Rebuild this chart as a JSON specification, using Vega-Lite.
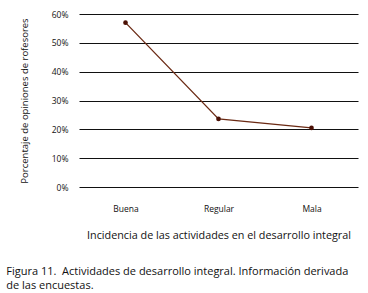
{
  "$schema": "https://vega.github.io/schema/vega-lite/v6.json",
  "autosize": "none",
  "width": 279,
  "height": 173,
  "padding": {"left": 79, "top": 14, "right": 10, "bottom": 106},
  "background": "white",
  "data": {"values": [
    {"categoria": "Buena", "porcentaje": 0.57},
    {"categoria": "Regular", "porcentaje": 0.236},
    {"categoria": "Mala", "porcentaje": 0.205}
  ]},
  "title": {
    "text": ["Figura 11.\u00a0\u00a0Actividades de desarrollo integral. Información derivada", "de las encuestas."],
    "orient": "bottom",
    "anchor": "start",
    "frame": "bounds",
    "offset": 26,
    "font": "Open Sans",
    "fontSize": 11,
    "fontWeight": "normal",
    "color": "#111",
    "lineHeight": 14,
    "dx": -13
  },
  "config": {
    "view": {"stroke": null},
    "font": "Open Sans"
  },
  "mark": {"type": "line", "color": "#6b2a14", "strokeWidth": 1.3, "point": {"filled": true, "color": "#4a1005", "size": 22}},
  "encoding": {
    "x": {
      "field": "categoria",
      "type": "nominal",
      "sort": ["Buena", "Regular", "Mala"],
      "scale": {"type": "point", "padding": 0.5},
      "axis": {
        "title": "Incidencia de las actividades en el desarrollo integral",
        "titleFont": "Open Sans",
        "titleFontSize": 10.8,
        "titleFontWeight": "normal",
        "titleColor": "#111",
        "titlePadding": 17,
        "labelAngle": 0,
        "labelFont": "Open Sans",
        "labelFontSize": 8.5,
        "labelColor": "#111",
        "labelPadding": 17,
        "domain": false,
        "ticks": false,
        "grid": false
      }
    },
    "y": {
      "field": "porcentaje",
      "type": "quantitative",
      "scale": {"domain": [0, 0.6], "nice": false},
      "axis": {
        "title": "Porcentaje de  opiniones de rofesores",
        "titleFont": "Open Sans",
        "titleFontSize": 9.5,
        "titleFontWeight": "normal",
        "titleColor": "#111",
        "titlePadding": 22,
        "format": ".0%",
        "values": [0, 0.1, 0.2, 0.3, 0.4, 0.5, 0.6],
        "labelFont": "Open Sans",
        "labelFontSize": 8.5,
        "labelColor": "#111",
        "labelPadding": 11,
        "domain": false,
        "ticks": false,
        "grid": true,
        "gridColor": "#111",
        "gridWidth": 1.2
      }
    }
  }
}
